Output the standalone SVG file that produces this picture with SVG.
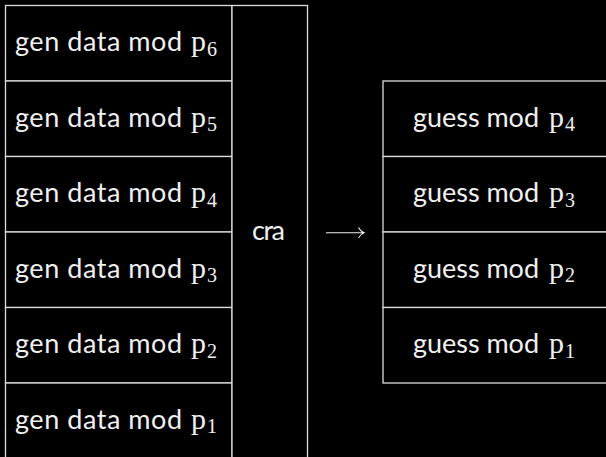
<svg xmlns="http://www.w3.org/2000/svg" width="606" height="457" viewBox="0 0 606 457">
<style>
.bx{fill:#000;stroke:#dcdcdc;stroke-width:1.3}
.t{font-family:Lato,"Open Sans",sans-serif;font-size:27px;fill:#f0f0f0}
.p{font-family:"Liberation Serif",serif;font-size:30px;fill:#f0f0f0}
.s{font-family:"Liberation Serif",serif;font-size:20px;fill:#f0f0f0}
.ar{fill:none;stroke:#f0f0f0;stroke-width:1.1}
</style>
<rect width="606" height="457" fill="#000"/>
<g id="gen6"><rect class="bx" x="5.5" y="5.5" width="226.5" height="75.5"/><text class="t" x="15" y="51" textLength="167" lengthAdjust="spacing">gen data mod</text><text class="p" x="191" y="51">p</text><text class="s" x="207" y="55.5">6</text></g>
<g id="gen5"><rect class="bx" x="5.5" y="81" width="226.5" height="75.5"/><text class="t" x="15" y="126.5" textLength="167" lengthAdjust="spacing">gen data mod</text><text class="p" x="191" y="126.5">p</text><text class="s" x="207" y="131">5</text></g>
<g id="gen4"><rect class="bx" x="5.5" y="156.5" width="226.5" height="75.5"/><text class="t" x="15" y="202" textLength="167" lengthAdjust="spacing">gen data mod</text><text class="p" x="191" y="202">p</text><text class="s" x="207" y="206.5">4</text></g>
<g id="gen3"><rect class="bx" x="5.5" y="232" width="226.5" height="75.5"/><text class="t" x="15" y="277.5" textLength="167" lengthAdjust="spacing">gen data mod</text><text class="p" x="191" y="277.5">p</text><text class="s" x="207" y="282">3</text></g>
<g id="gen2"><rect class="bx" x="5.5" y="307.5" width="226.5" height="75.5"/><text class="t" x="15" y="353" textLength="167" lengthAdjust="spacing">gen data mod</text><text class="p" x="191" y="353">p</text><text class="s" x="207" y="357.5">2</text></g>
<g id="gen1"><rect class="bx" x="5.5" y="383" width="226.5" height="75.5"/><text class="t" x="15" y="428.5" textLength="167" lengthAdjust="spacing">gen data mod</text><text class="p" x="191" y="428.5">p</text><text class="s" x="207" y="433">1</text></g>
<g id="cra"><rect class="bx" x="232" y="5.5" width="75.5" height="453"/><text class="t" x="252" y="240" textLength="33" lengthAdjust="spacing">cra</text></g>
<g id="guess4"><rect class="bx" x="383" y="81" width="230" height="75.5"/><text class="t" x="413" y="126.5" textLength="126" lengthAdjust="spacing">guess mod</text><text class="p" x="549" y="126.5">p</text><text class="s" x="565" y="131">4</text></g>
<g id="guess3"><rect class="bx" x="383" y="156.5" width="230" height="75.5"/><text class="t" x="413" y="202" textLength="126" lengthAdjust="spacing">guess mod</text><text class="p" x="549" y="202">p</text><text class="s" x="565" y="206.5">3</text></g>
<g id="guess2"><rect class="bx" x="383" y="232" width="230" height="75.5"/><text class="t" x="413" y="277.5" textLength="126" lengthAdjust="spacing">guess mod</text><text class="p" x="549" y="277.5">p</text><text class="s" x="565" y="282">2</text></g>
<g id="guess1"><rect class="bx" x="383" y="307.5" width="230" height="75.5"/><text class="t" x="413" y="353" textLength="126" lengthAdjust="spacing">guess mod</text><text class="p" x="549" y="353">p</text><text class="s" x="565" y="357.5">1</text></g>
<g id="connectors"><path class="ar" d="M326 232.7 H363.5 M358.5 227.5 Q360.5 231.5 364 232.7 Q360.5 234 358.5 238"/></g>
</svg>
